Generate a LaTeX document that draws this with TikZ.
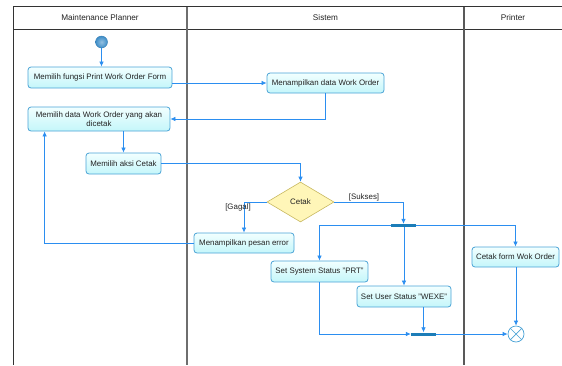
\documentclass[tikz,border=0pt]{standalone}
\usepackage{fontspec}
\setmainfont{Liberation Sans}
\usetikzlibrary{arrows.meta,shapes.geometric,calc}

\definecolor{flowblue}{HTML}{2B8EF0}
\definecolor{boxedge}{HTML}{4AA3D6}
\definecolor{boxtop}{HTML}{F2FFFF}
\definecolor{boxbot}{HTML}{C4F6FA}
\definecolor{barblue}{HTML}{1C7DB8}
\definecolor{startblue}{HTML}{3D8DC8}
\definecolor{decfill}{HTML}{FFF6B8}
\definecolor{decedge}{HTML}{C8B860}
\definecolor{lanegray}{HTML}{6E6E6E}
\definecolor{textgray}{HTML}{222222}

\tikzset{
  labelfont/.style={font=\fontsize{7.9}{9.4}\selectfont, text=textgray},
  action/.style={labelfont, draw=boxedge, line width=0.8pt, rounded corners=3pt,
    top color=boxtop, bottom color=boxbot, inner sep=0pt, align=center},
  decision/.style={labelfont, diamond, draw=decedge, line width=0.6pt, fill=decfill,
    inner sep=0pt},
  syncbar/.style={rectangle, fill=barblue, inner sep=0pt, minimum width=25pt, minimum height=3pt},
  startnode/.style={circle, inner sep=0pt, minimum size=12pt, draw=startblue!90!black,
    line width=0.4pt, shading=radial, inner color=startblue!55!white, outer color=startblue},
  endnode/.style={circle, inner sep=0pt, minimum size=16pt, draw=boxedge, line width=0.7pt, fill=white},
  flow/.style={draw=flowblue, line width=0.7pt, -{Latex[length=5pt,width=4.5pt]}},
  guard/.style={labelfont, inner sep=0pt},
  lanehead/.style={font=\fontsize{8.2}{9.4}\selectfont, text=textgray, inner sep=0pt},
}

\begin{document}
\begin{tikzpicture}[x=1pt,y=-1pt]
\useasboundingbox (0,0) rectangle (562,365);

% swimlane frame
\draw[line width=0.8pt, black!80] (13,6.5) -- (562,6.5);
\draw[line width=0.8pt, black!80] (13,29) -- (562,29);
\draw[line width=0.9pt, black!80] (13,6.5) -- (13,365);
\draw[line width=1.3pt, lanegray] (187,6.5) -- (187,365);
\draw[line width=1.1pt, black!65] (464,6.5) -- (464,365);
\node[lanehead] (h1) at (100,17.5) {Maintenance Planner};
\node[lanehead] (h2) at (325.5,17.5) {Sistem};
\node[lanehead] (h3) at (513,17.5) {Printer};

% activity nodes
\node[startnode] (init) at (101.5,42) {};
\node[action, minimum width=144pt, minimum height=21pt] (a1) at (100,77.5) {Memilih fungsi Print Work Order Form};
\node[action, minimum width=117pt, minimum height=20pt] (a2) at (325.5,83) {Menampilkan data Work Order};
\node[action, minimum width=142pt, minimum height=24pt] (a3) at (99,119) {Memilih data Work Order yang akan\\dicetak};
\node[action, minimum width=75pt, minimum height=21pt] (a4) at (123.5,163.5) {Memilih aksi Cetak};
\node[decision, minimum width=67pt, minimum height=40pt] (dec) at (300.5,202) {Cetak};
\node[action, minimum width=100pt, minimum height=20pt] (a5) at (244,243) {Menampilkan pesan error};
\node[syncbar] (fork) at (403.5,225.5) {};
\node[action, minimum width=87pt, minimum height=20pt] (a6) at (515.5,257) {Cetak form Wok Order};
\node[action, minimum width=97pt, minimum height=21pt] (a7) at (319.5,271.5) {Set System Status "PRT"};
\node[action, minimum width=94pt, minimum height=21pt] (a8) at (404,296.5) {Set User Status "WEXE"};
\node[syncbar] (join) at (423.5,334) {};
\node[endnode] (final) at (516,334) {};
\draw[boxedge, line width=0.7pt] (final.north east) -- (final.south west)
  (final.north west) -- (final.south east);

% control flows
\draw[flow] (init.south) -- (init.south |- a1.north);
\draw[flow] (a1.east |- a2.west) -- (a2.west);
\draw[flow] (a2.south) |- (a3.east);
\draw[flow] (a3.south -| a4.north) -- (a4.north);
\draw[flow] (a4.east) -| (dec.north);
\draw[flow] (dec.west) -| (a5.north);
\node[guard] (g1) at (238,207) {[Gagal]};
\draw[flow] (a5.west) -| ($(a3.south west)+(17,0)$);
\draw[flow] (dec.east) -| (fork.north);
\node[guard] (g2) at (364,197) {[Sukses]};
\draw[flow] (fork.west) -| (a7.north);
\draw[flow] (fork.east) -| (a6.north);
\draw[flow] (fork.south -| a8.north) -- (a8.north);
\draw[flow] (a7.south) |- (join.west);
\draw[flow] (join.north |- a8.south) -- (join.north);
\draw[flow] (join.east) -- (final.west);
\draw[flow] (final.north |- a6.south) -- (final.north);
\end{tikzpicture}
\end{document}
